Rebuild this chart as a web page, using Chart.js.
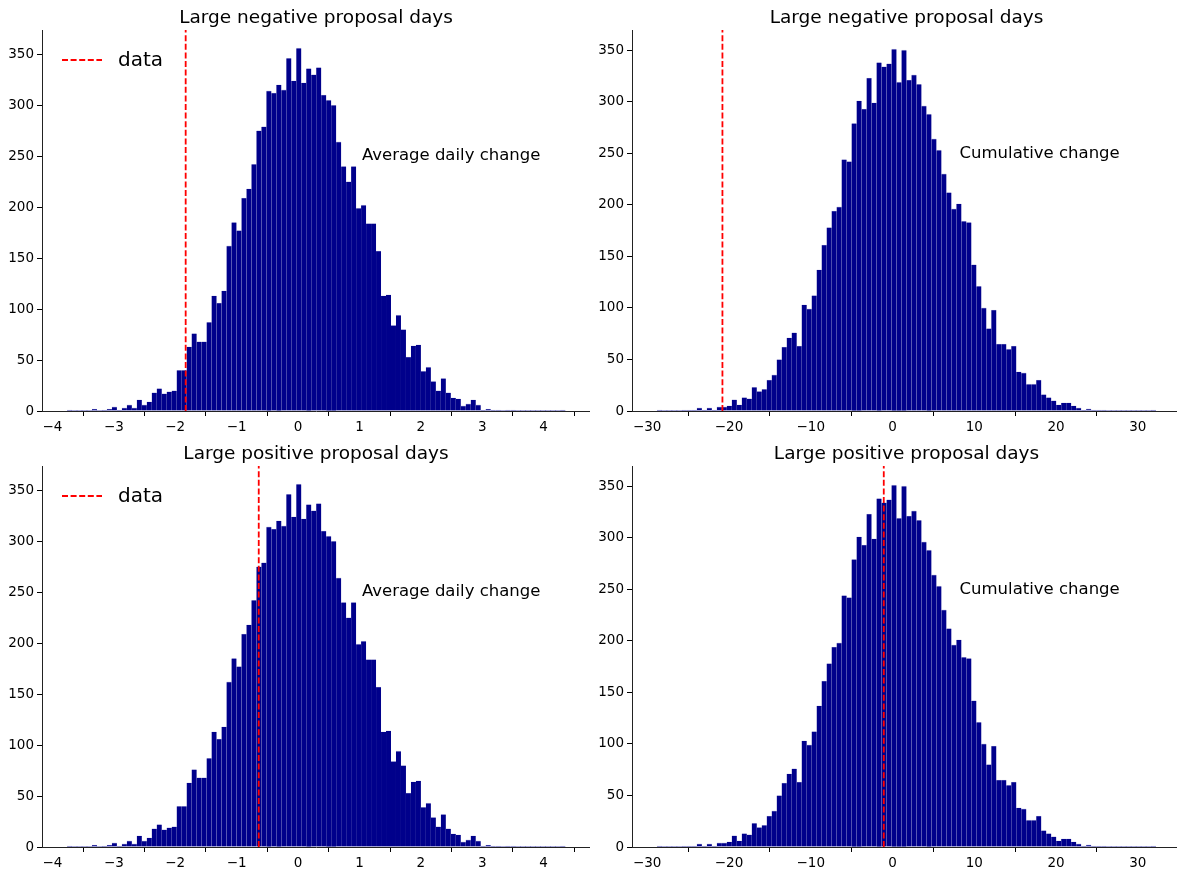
<!DOCTYPE html>
<html>
<head>
<meta charset="utf-8">
<script src="https://cdn.jsdelivr.net/npm/chart.js@4.4.1/dist/chart.umd.min.js"></script>
<style>
html, body { margin: 0; padding: 0; background: #fff; overflow: hidden; width: 1177px; height: 873px; }
.panel { position: absolute; }
</style>
</head>
<body>
<div class="panel" style="left:0;top:0"><canvas id="negAvg" width="590" height="436"></canvas></div>
<div class="panel" style="left:590px;top:0"><canvas id="negCum" width="591" height="436"></canvas></div>
<div class="panel" style="left:0;top:436px"><canvas id="posAvg" width="590" height="436"></canvas></div>
<div class="panel" style="left:590px;top:436px"><canvas id="posCum" width="591" height="436"></canvas></div>
<script>
// histogram counts, 100 bins each
var avgCounts = [
  1, 0, 0, 0, 0, 2, 0, 1, 2, 4,
  1, 3, 6, 3, 11, 6, 9, 18, 22, 17,
  19, 20, 40, 40, 63, 76, 68, 68, 87, 113,
  106, 118, 162, 185, 177, 209, 218, 242, 275, 279,
  314, 312, 320, 315, 346, 324, 356, 322, 336, 330,
  337, 310, 305, 300, 264, 240, 225, 240, 199, 202,
  184, 184, 157, 113, 114, 84, 94, 80, 53, 64,
  65, 39, 43, 29, 20, 32, 18, 13, 12, 5,
  7, 11, 6, 1, 2, 1, 1, 0, 1, 1,
  0, 0, 0, 0, 0, 0, 0, 0, 0, 1
];
var cumCounts = [
  1, 0, 0, 0, 0, 1, 1, 1, 3, 1,
  3, 1, 4, 4, 5, 11, 6, 13, 12, 23,
  19, 21, 30, 35, 50, 62, 71, 76, 63, 103,
  99, 112, 137, 161, 178, 194, 198, 244, 242, 279,
  301, 293, 323, 299, 338, 334, 337, 351, 319, 350,
  321, 326, 317, 296, 288, 264, 253, 230, 212, 196,
  201, 184, 183, 142, 121, 100, 80, 98, 65, 65,
  60, 63, 38, 37, 26, 26, 30, 16, 13, 10,
  6, 8, 8, 5, 3, 1, 2, 1, 1, 1,
  0, 0, 0, 0, 0, 0, 0, 0, 0, 1
];
var avgBinStart = -3.762, avgBinWidth = 0.08117;
var cumBinStart = -28.81, cumBinWidth = 0.6104;

var avgXTicks = [-4, -3, -2, -1, 0, 1, 2, 3, 4];
var cumXTicks = [-30, -20, -10, 0, 10, 20, 30];
var yTicks = [0, 50, 100, 150, 200, 250, 300, 350];

// observed values (red dashed lines)
var negAvgData = -1.83, posAvgData = -0.64;
var negCumData = -20.8, posCumData = -1.07;

Chart.defaults.font.family = "'DejaVu Sans', sans-serif";
Chart.defaults.color = '#000';

function fmt(v) {
  return String(v).replace('-', '\u2212');
}

var textPlugin = {
  id: 'panelText',
  afterDraw: function(chart) {
    var o = chart.options.plugins.panelText;
    var ctx = chart.ctx, area = chart.chartArea;
    ctx.save();
    ctx.fillStyle = '#000';
    ctx.textBaseline = 'middle';
    // title
    ctx.font = '18.5px "DejaVu Sans"';
    ctx.textAlign = 'center';
    ctx.fillText(o.title, (area.left + area.right) / 2, area.top - 12);
    // annotation at data coordinates
    ctx.font = '16.5px "DejaVu Sans"';
    ctx.textAlign = 'left';
    ctx.fillText(o.note, chart.scales.x.getPixelForValue(o.noteX), chart.scales.y.getPixelForValue(o.noteY));
    // legend in the upper left
    if (o.legend) {
      var lx = area.left + 20, ly = area.top + 30;
      ctx.strokeStyle = '#ff0000';
      ctx.lineWidth = 1.8;
      ctx.setLineDash([6, 2.6]);
      ctx.beginPath();
      ctx.moveTo(lx, ly);
      ctx.lineTo(lx + 40, ly);
      ctx.stroke();
      ctx.setLineDash([]);
      ctx.font = '20px "DejaVu Sans"';
      ctx.fillText('data', lx + 56, ly + 1);
    }
    ctx.restore();
  }
};

function makeHist(id, title, counts, binStart, binWidth, xMin, xMax, yMax, xTicks, dataValue, note, noteX, noteY, legend) {
  var bars = counts.map(function(c, i) {
    return { x: binStart + (i + 0.5) * binWidth, y: c };
  });
  var axisCommon = {
    z: 1,
    grid: { display: true, drawOnChartArea: false, drawTicks: true, tickLength: 5, color: '#000', lineWidth: 1 },
    border: { display: true, color: '#222', width: 1 }
  };
  return new Chart(document.getElementById(id), {
    type: 'bar',
    data: {
      datasets: [
        {
          type: 'line',
          label: 'data',
          order: 0,
          data: [{ x: dataValue, y: 0 }, { x: dataValue, y: yMax }],
          borderColor: '#ff0000',
          borderWidth: 1.8,
          borderDash: [6, 2.6],
          pointRadius: 0,
          fill: false
        },
        {
          type: 'bar',
          label: 'hist',
          order: 1,
          data: bars,
          backgroundColor: '#00008b',
          borderColor: 'rgba(150,150,210,0.55)',
          borderWidth: function(c) {
            return c.raw && c.raw.y > 0 ? { top: 0.6, left: 0, right: 0, bottom: 0 } : 0;
          },
          borderSkipped: false,
          barPercentage: 1,
          categoryPercentage: 1,
          grouped: false
        }
      ]
    },
    options: {
      responsive: false,
      animation: false,
      devicePixelRatio: 1,
      layout: { padding: { top: 30, left: 0, right: 0, bottom: 0 } },
      plugins: {
        legend: { display: false },
        tooltip: { enabled: false },
        panelText: { title: title, note: note, noteX: noteX, noteY: noteY, legend: legend }
      },
      scales: {
        x: Object.assign({
          type: 'linear',
          min: xMin,
          max: xMax,
          offset: false,
          ticks: { font: { size: 13.5 }, color: '#000', padding: 3, maxRotation: 0, autoSkip: false, callback: fmt },
          afterBuildTicks: function(s) { s.ticks = xTicks.map(function(v) { return { value: v }; }); },
          afterFit: function(s) { s.height = 25; }
        }, axisCommon),
        y: Object.assign({
          type: 'linear',
          min: 0,
          max: yMax,
          ticks: { font: { size: 13.5 }, color: '#000', padding: 3 },
          afterBuildTicks: function(s) { s.ticks = yTicks.map(function(v) { return { value: v }; }); },
          afterFit: function(s) { s.width = 42; }
        }, axisCommon)
      }
    },
    plugins: [textPlugin]
  });
}

makeHist('negAvg', 'Large negative proposal days', avgCounts, avgBinStart, avgBinWidth,
  -4.17, 4.755, 373.8, avgXTicks, negAvgData, 'Average daily change', 1.04, 250, true);
makeHist('negCum', 'Large negative proposal days', cumCounts, cumBinStart, cumBinWidth,
  -31.86, 35.28, 369.6, cumXTicks, negCumData, 'Cumulative change', 8.2, 250, false);
makeHist('posAvg', 'Large positive proposal days', avgCounts, avgBinStart, avgBinWidth,
  -4.17, 4.755, 373.8, avgXTicks, posAvgData, 'Average daily change', 1.04, 250, true);
makeHist('posCum', 'Large positive proposal days', cumCounts, cumBinStart, cumBinWidth,
  -31.86, 35.28, 369.6, cumXTicks, posCumData, 'Cumulative change', 8.2, 250, false);
</script>
</body>
</html>
